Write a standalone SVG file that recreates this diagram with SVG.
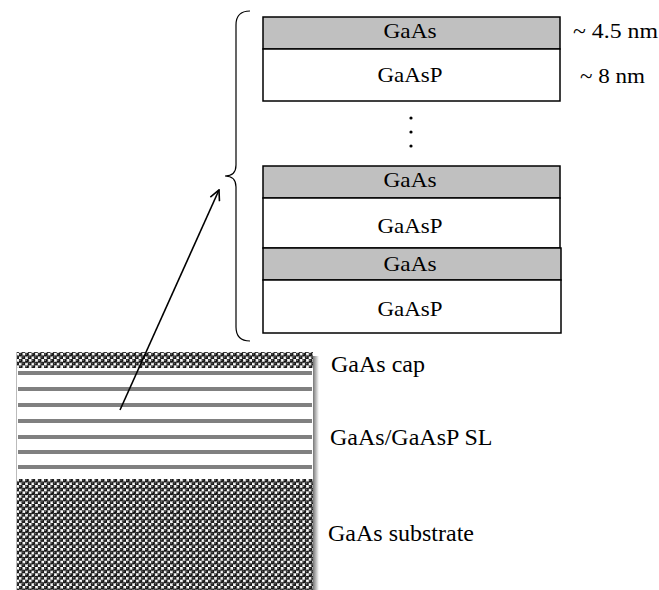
<svg xmlns="http://www.w3.org/2000/svg" width="659" height="590" viewBox="0 0 659 590">
  <defs>
    <style>
      .layer { stroke: #000; stroke-width: 1.5; }
      .well { fill: #c0c0c0; }
      .barrier { fill: #fff; }
      text { font-family: 'Liberation Serif', 'Times New Roman', 'DejaVu Serif', serif; fill: #000; }
      .box { font-size: 21px; text-anchor: middle; }
      .lbl { font-size: 24px; }
      .thk { font-size: 20px; }
      .stripe { fill: #808080; }
      .conn { fill: none; stroke: #000; stroke-width: 1.6; }
      .brace { fill: none; stroke: #000; stroke-width: 1.2; }
    </style>
    <!-- close-packed balls used for the GaAs cap and substrate -->
    <pattern id="balls" width="6.3" height="6.3" patternUnits="userSpaceOnUse">
      <rect width="6.3" height="6.3" fill="#fff"/>
      <circle cx="1.6" cy="1.6" r="2.2" fill="#111"/>
      <circle cx="4.75" cy="4.75" r="2.2" fill="#111"/>
      <circle cx="1.1" cy="1.1" r="0.7" fill="#999"/>
      <circle cx="4.25" cy="4.25" r="0.7" fill="#999"/>
    </pattern>
    <linearGradient id="shade" x1="0" y1="0" x2="1" y2="0">
      <stop offset="0" stop-color="#777"/>
      <stop offset="1" stop-color="#fff"/>
    </linearGradient>
    <marker id="open" viewBox="0 0 12 12" refX="11" refY="6" markerWidth="12" markerHeight="12" markerUnits="userSpaceOnUse" orient="auto">
      <path d="M1,1 L11,6 L1,11" fill="none" stroke="#000" stroke-width="1.6"/>
    </marker>
  </defs>

  <!-- magnified superlattice stack -->
  <g id="stack-top">
    <rect class="layer well" x="263" y="17" width="297" height="32"/>
    <rect class="layer barrier" x="263" y="49" width="297" height="52"/>
    <text class="box" font-family="Liberation Serif, serif" x="410" y="38" textLength="53" lengthAdjust="spacingAndGlyphs">GaAs</text>
    <text class="box" font-family="Liberation Serif, serif" x="410" y="82" textLength="65" lengthAdjust="spacingAndGlyphs">GaAsP</text>
  </g>

  <g id="ellipsis">
    <circle cx="411" cy="118" r="1.6" fill="#000"/>
    <circle cx="411" cy="132" r="1.6" fill="#000"/>
    <circle cx="411" cy="146" r="1.6" fill="#000"/>
  </g>

  <g id="stack-bottom">
    <rect class="layer well" x="263" y="166" width="297" height="32"/>
    <rect class="layer barrier" x="263" y="198" width="297" height="50"/>
    <rect class="layer well" x="263" y="248" width="298" height="32"/>
    <rect class="layer barrier" x="263" y="280" width="298" height="53"/>
    <text class="box" font-family="Liberation Serif, serif" x="410" y="187" textLength="53" lengthAdjust="spacingAndGlyphs">GaAs</text>
    <text class="box" font-family="Liberation Serif, serif" x="410" y="233" textLength="65" lengthAdjust="spacingAndGlyphs">GaAsP</text>
    <text class="box" font-family="Liberation Serif, serif" x="410" y="271" textLength="53" lengthAdjust="spacingAndGlyphs">GaAs</text>
    <text class="box" font-family="Liberation Serif, serif" x="410" y="316" textLength="65" lengthAdjust="spacingAndGlyphs">GaAsP</text>
  </g>

  <g id="thickness">
    <text class="thk" font-family="Liberation Serif, serif" x="573" y="38" textLength="85" lengthAdjust="spacingAndGlyphs">~ 4.5 nm</text>
    <text class="thk" font-family="Liberation Serif, serif" x="580" y="83" textLength="65" lengthAdjust="spacingAndGlyphs">~ 8 nm</text>
  </g>

  <!-- sample cross-section -->
  <g id="sample">
    <rect x="313" y="356" width="6" height="234" fill="url(#shade)"/>
    <line x1="16.5" y1="352" x2="16.5" y2="590" stroke="#bbb" stroke-width="1"/>
    <rect x="17" y="352" width="296" height="16" fill="url(#balls)"/>
    <rect x="17" y="368" width="296" height="111" fill="#fff"/>
    <rect class="stripe" x="18" y="371" width="294" height="4"/>
    <rect class="stripe" x="18" y="387" width="294" height="4"/>
    <rect class="stripe" x="18" y="403" width="294" height="4"/>
    <rect class="stripe" x="18" y="419" width="294" height="4"/>
    <rect class="stripe" x="18" y="435" width="294" height="4"/>
    <rect class="stripe" x="18" y="450" width="294" height="4"/>
    <rect class="stripe" x="18" y="465" width="294" height="4"/>
    <rect x="17" y="479" width="296" height="111" fill="url(#balls)"/>
  </g>

  <g id="labels">
    <text class="lbl" font-family="Liberation Serif, serif" x="331" y="372">GaAs cap</text>
    <text class="lbl" font-family="Liberation Serif, serif" x="330" y="445">GaAs/GaAsP SL</text>
    <text class="lbl" font-family="Liberation Serif, serif" x="328" y="541">GaAs substrate</text>
  </g>

  <g id="connectors">
    <path class="brace" d="M250,11 Q236,11 236,25 L236,165 Q236,176 225,176 Q236,176 236,187 L236,327 Q236,341 250,341"/>
    <line class="conn" x1="120" y1="410" x2="219" y2="190" marker-end="url(#open)"/>
  </g>
</svg>
